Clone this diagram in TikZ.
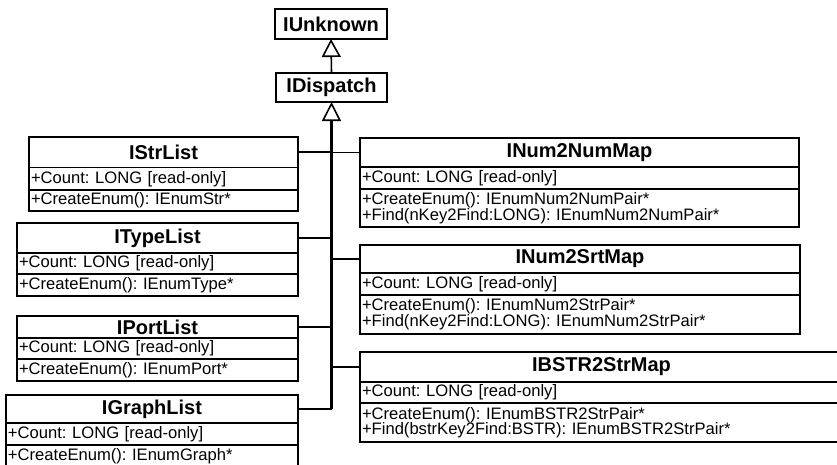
\documentclass[tikz,border=0pt]{standalone}
\usepackage{fontspec}
\setmainfont{Liberation Sans}
\usetikzlibrary{arrows.meta}

\newcommand\ttlfont{\fontsize{20}{24}\selectfont\bfseries}
\newcommand\bodyfont{\fontsize{16.6}{15.6}\selectfont\frenchspacing\lineskiplimit=-20pt\relax}

% one UML interface: name, top-left corner, width, three compartment heights,
% title, attribute text, operation text
\newcommand\umlclass[9]{%
  \pgfmathsetmacro\tw{#3-4}%
  \node[ttl, minimum width=#3pt, minimum height=#4pt] (#1) at (#2) {#7};
  \node[row, minimum width=#3pt, minimum height=#5pt, text width=\tw pt] (#1-a) at (#1.south west) {#8};
  \node[row, minimum width=#3pt, minimum height=#6pt, text width=\tw pt] (#1-o) at (#1-a.south west) {#9};
}

\tikzset{
  box/.style={draw, line width=1.6pt, inner sep=0pt, outer sep=0pt, anchor=north west, fill=white},
  ttl/.style={box, font=\ttlfont},
  row/.style={box, font=\bodyfont, align=left, inner xsep=2pt},
  inh/.style={line width=1.6pt, -{Triangle[open, length=18pt, width=19pt]}},
  trunk/.style={line width=2.6pt, -{Triangle[open, length=19pt, width=19pt, line width=1.6pt]}},
  link/.style={line width=1.8pt},
}

\begin{document}
\begin{tikzpicture}[x=1pt, y=-1pt]
  \useasboundingbox (0,0) rectangle (837,464);
  \clip (0,0) rectangle (837,464);

  % base interfaces
  \node[ttl, minimum width=112pt, minimum height=30pt] (iunk) at (275,9) {IUnknown};
  \node[ttl, minimum width=111pt, minimum height=29pt] (idisp) at (276,73) {IDispatch};

  % list interfaces on the left
  \umlclass{istr}{29,137}{269}{30.5}{22.5}{21}{IStrList}
    {+Count: LONG [read-only]}{+CreateEnum(): IEnumStr*}
  \umlclass{itype}{17,223}{281}{30}{21}{22}{ITypeList}
    {+Count: LONG [read-only]}{+CreateEnum(): IEnumType*}
  \umlclass{iport}{17,316}{281}{22}{21}{22}{IPortList}
    {+Count: LONG [read-only]}{+CreateEnum(): IEnumPort*}
  \umlclass{igraph}{6,395}{292}{28}{22}{22}{IGraphList}
    {+Count: LONG [read-only]}{+CreateEnum(): IEnumGraph*}

  % map interfaces on the right
  \umlclass{inn}{360,138}{439}{29}{22}{38}{INum2NumMap}
    {+Count: LONG [read-only]}{+CreateEnum(): IEnumNum2NumPair*\\+Find(nKey2Find:LONG): IEnumNum2NumPair*}
  \umlclass{ins}{360,245}{440}{28}{22}{39}{INum2SrtMap}
    {+Count: LONG [read-only]}{+CreateEnum(): IEnumNum2StrPair*\\+Find(nKey2Find:LONG): IEnumNum2StrPair*}
  \umlclass{ibs}{360,352}{483}{30}{21}{39}{IBSTR2StrMap}
    {+Count: LONG [read-only]}{+CreateEnum(): IEnumBSTR2StrPair*\\+Find(bstrKey2Find:BSTR): IEnumBSTR2StrPair*}

  % generalisation arrows
  \draw[inh] (idisp.north) -- (iunk.south);
  \coordinate (tb) at (igraph.east -| idisp.south);
  \draw[trunk] (tb) -- (idisp.south);

  \draw[link] (istr.east) -- (istr.east -| tb);
  \draw[link] (itype.east) -- (itype.east -| tb);
  \draw[link] (iport.east) -- (iport.east -| tb);
  \draw[link] (igraph.east) -- (tb);
  \draw[link] (inn.west) -- (inn.west -| tb);
  \draw[link] (ins.west) -- (ins.west -| tb);
  \draw[link] (ibs.west) -- (ibs.west -| tb);
\end{tikzpicture}
\end{document}
